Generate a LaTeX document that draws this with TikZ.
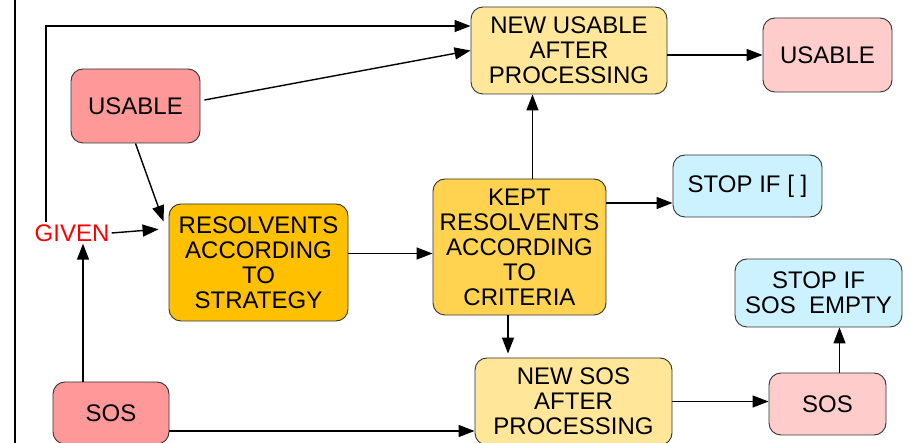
\documentclass[tikz,border=0pt]{standalone}
\usepackage{fontspec}
\setmainfont{Liberation Sans}
\usetikzlibrary{arrows.meta}
\definecolor{rosedark}{RGB}{255,153,153}
\definecolor{roselight}{RGB}{255,204,204}
\definecolor{sand}{RGB}{255,230,153}
\definecolor{amber}{RGB}{255,192,0}
\definecolor{gold}{RGB}{255,211,79}
\definecolor{sky}{RGB}{204,242,255}
\tikzset{
  box/.style={draw=black!80,line width=0.9pt,rounded corners=12pt,inner sep=0pt,align=center,
    font=\fontsize{24}{25}\selectfont},
  conn/.style={line width=1.4pt},
  arr/.style={conn,-{Triangle[length=16pt,width=12pt]}}
}
\begin{document}
\begin{tikzpicture}[x=1pt,y=-1pt]
  \useasboundingbox (0,0) rectangle (911,443);
  % Draw left border
  \draw[line width=2pt] (15,-5) -- (15,450);
  % Draw boxes
  \node[box,fill=rosedark,minimum width=129pt,minimum height=74pt] (usableA) at (135.5,106) {USABLE};
  \node[box,fill=sand,minimum width=196pt,minimum height=87pt] (newusable) at (569,50.5) {NEW USABLE\\AFTER\\PROCESSING};
  \node[box,fill=roselight,minimum width=129pt,minimum height=74pt] (usableB) at (827.5,55) {USABLE};
  \node[box,fill=amber,minimum width=179pt,minimum height=117pt] (resolv) at (258.5,262.5) {RESOLVENTS\\ACCORDING\\TO\\STRATEGY};
  \node[box,fill=gold,minimum width=173pt,minimum height=136pt] (kept) at (519.5,247) {KEPT\\RESOLVENTS\\ACCORDING\\TO\\CRITERIA};
  \node[box,fill=sky,minimum width=149pt,minimum height=62pt] (stopA) at (747.5,186) {STOP IF [ ]};
  \node[box,fill=sky,minimum width=167pt,minimum height=68pt] (stopB) at (818.5,293) {STOP IF\\SOS\ \ EMPTY};
  \node[box,fill=roselight,minimum width=117pt,minimum height=62pt] (sosB) at (827.5,404) {SOS};
  \node[box,fill=sand,minimum width=197pt,minimum height=87pt] (newsos) at (573.5,401.5) {NEW SOS\\AFTER\\PROCESSING};
  \node[box,fill=rosedark,minimum width=116pt,minimum height=62pt] (sosA) at (111,413) {SOS};
  \node[text=red,inner sep=2pt,font=\fontsize{24}{25}\selectfont] (given) at (72,233) {GIVEN};
  % Draw connectors
  \coordinate (gup) at (46,26);
  \draw[arr] (given.north -| gup) -- (gup) -- (gup -| newusable.west);
  \draw[arr,shorten >=10pt] (given.east) -- ([yshift=34pt]resolv.west);
  \draw[arr] (usableA.south) -- ([shift={(-5pt,-18pt)}]resolv.north west);
  \draw[arr] ([shift={(4pt,6pt)}]usableA.east) -- (newusable.west);
  \draw[arr] (usableB.west -| newusable.east) -- (usableB.west);
  \draw[arr] ([yshift=9pt]resolv.east) -- ([yshift=9pt]resolv.east -| kept.west);
  \draw[arr] ([xshift=13pt]kept.north) -- ([xshift=13pt]kept.north |- newusable.south);
  \draw[arr] ([yshift=-17pt]stopA.west -| kept.east) -- ([yshift=-17pt]stopA.west);
  \draw[arr,shorten >=4pt] ([xshift=-11.5pt]kept.south) -- ([xshift=-11.5pt]kept.south |- newsos.north);
  \draw[arr] ([xshift=-28pt]sosA.north) -- ([xshift=-28pt]sosA.north |- given.south);
  \draw[arr] ([yshift=-18pt]sosA.east) -- ([yshift=-18pt]sosA.east -| newsos.west);
  \draw[arr] (newsos.east) -- (newsos.east -| sosB.west);
  \draw[arr] ([xshift=12pt]sosB.north) -- ([xshift=12pt]sosB.north |- stopB.south);
\end{tikzpicture}
\end{document}
